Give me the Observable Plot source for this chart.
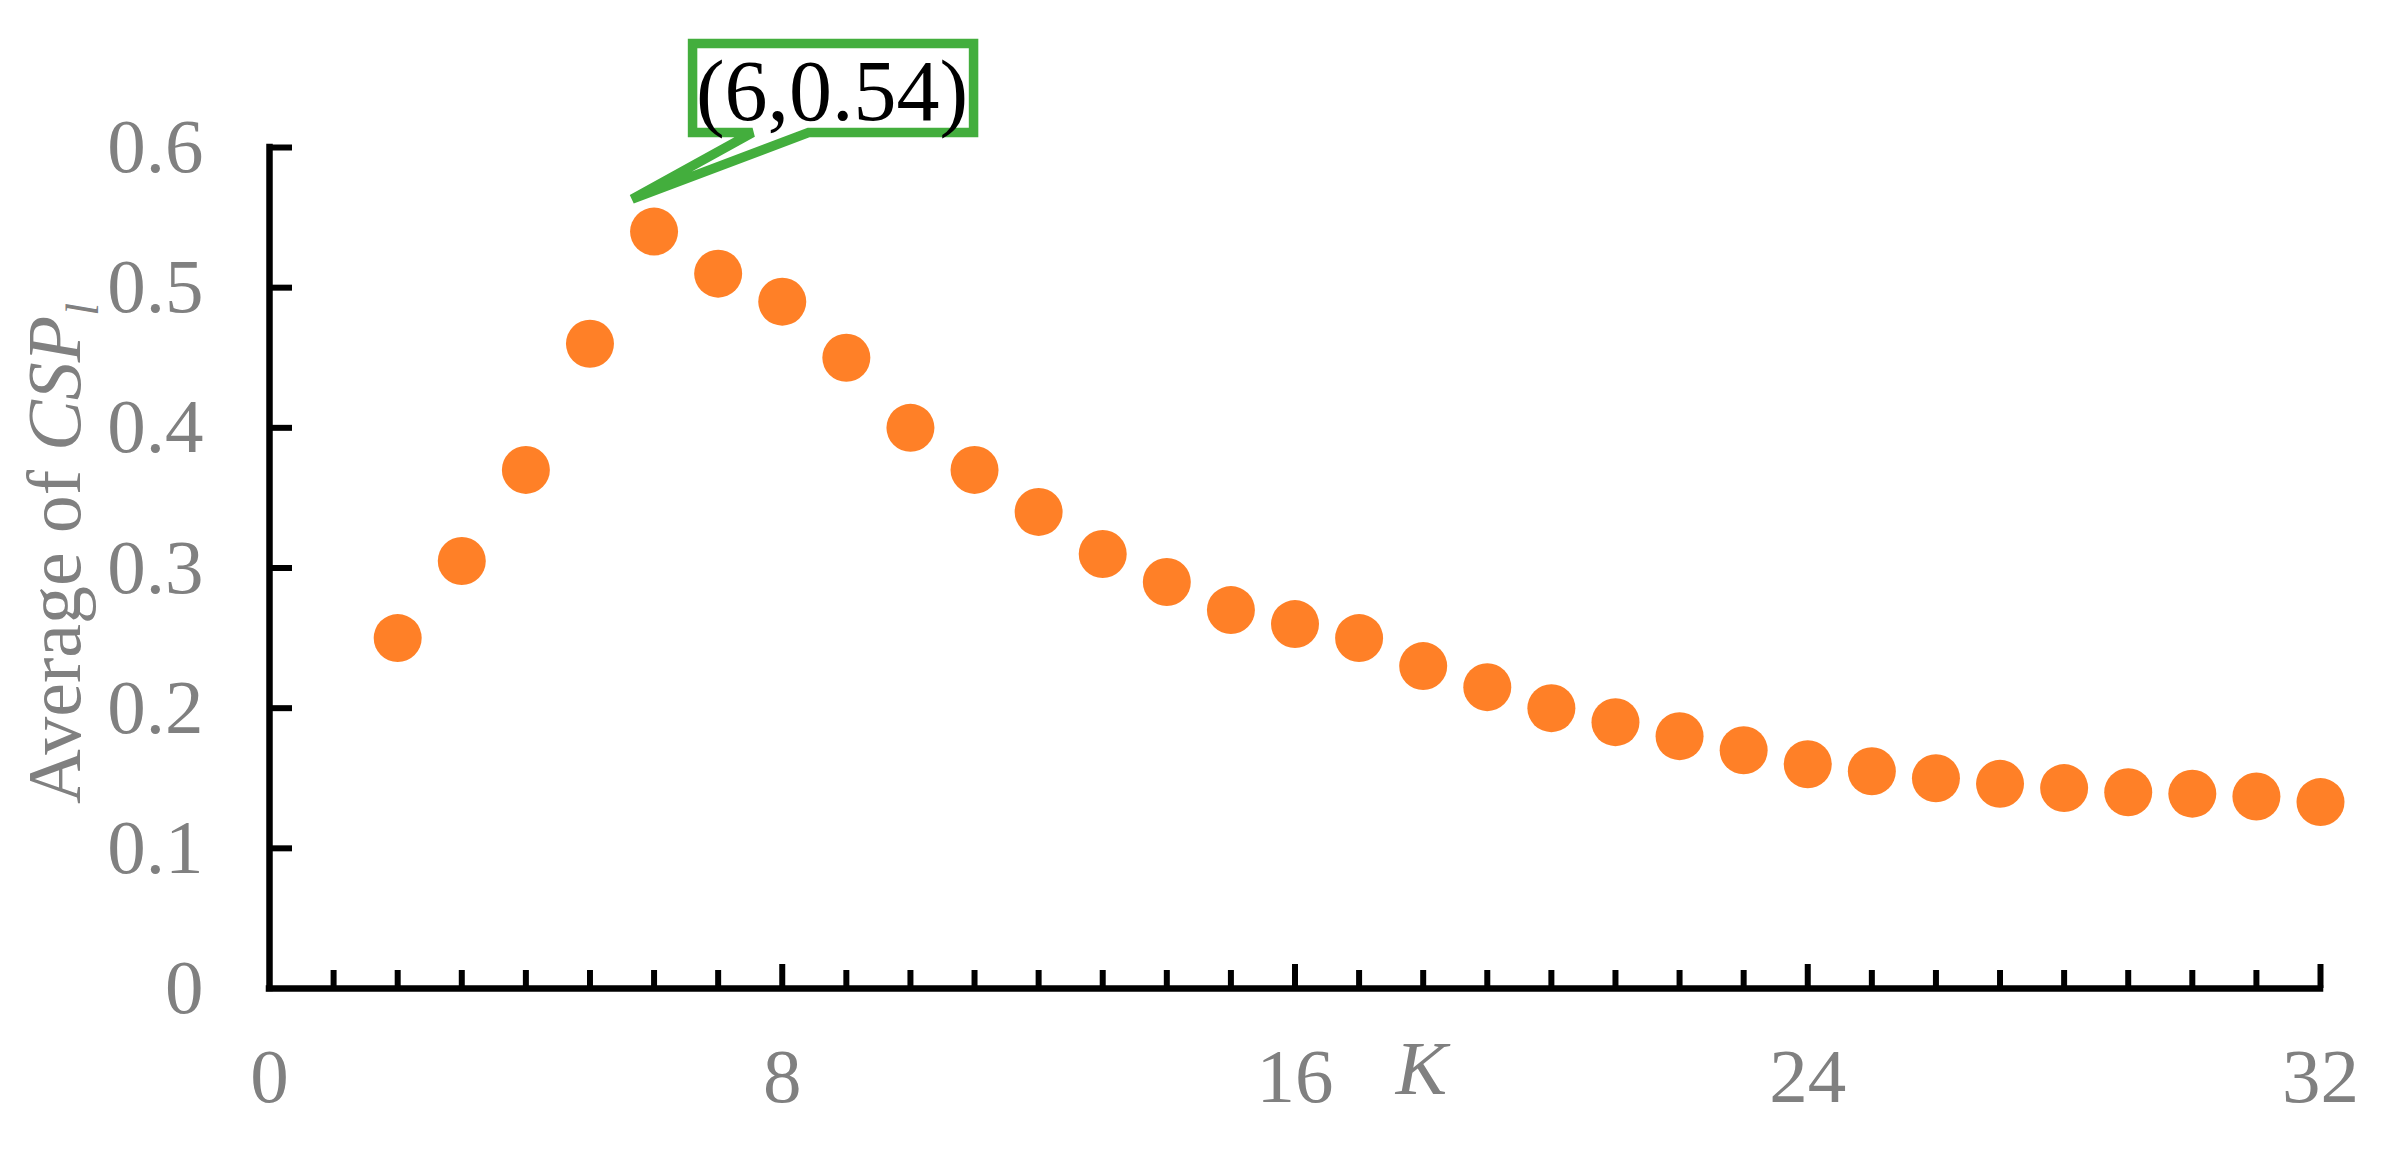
<!DOCTYPE html>
<html>
<head>
<meta charset="utf-8">
<script src="https://cdn.jsdelivr.net/npm/d3@7"></script>
<script src="https://cdn.jsdelivr.net/npm/@observablehq/plot@0.6"></script>
<style>
  html, body { margin: 0; padding: 0; background: #ffffff; overflow: hidden; }
  #chart svg { display: block; }
</style>
</head>
<body>
<div id="chart"></div>
<script>
// ---- data ----
const K = [2, 3, 4, 5, 6, 7, 8, 9, 10, 11, 12, 13, 14, 15, 16, 17, 18, 19, 20, 21, 22, 23, 24, 25, 26, 27, 28, 29, 30, 31, 32];
const avgCSP = [0.25, 0.305, 0.37, 0.46, 0.54, 0.51, 0.49, 0.45, 0.40, 0.37, 0.34, 0.31, 0.29, 0.27, 0.26, 0.25, 0.23, 0.215, 0.20, 0.19, 0.18, 0.17, 0.16, 0.155, 0.15, 0.146, 0.143, 0.14, 0.139, 0.137, 0.133];
const xTickLabels = [0, 8, 16, 24, 32];
const yTickLabels = [0, 0.1, 0.2, 0.3, 0.4, 0.5, 0.6];
const xMajorTicks = [8, 16, 24, 32];
const xMinorTicks = [1, 2, 3, 4, 5, 6, 7, 9, 10, 11, 12, 13, 14, 15, 17, 18, 19, 20, 21, 22, 23, 25, 26, 27, 28, 29, 30, 31];
const yTickMarks = [0.1, 0.2, 0.3, 0.4, 0.5, 0.6];
const annotations = [{K: 6, value: 0.54, text: "(6,0.54)"}];
const xLabel = ["K"];

const data = K.map((k, i) => ({K: k, value: avgCSP[i]}));

const W = 2396, H = 1167;
const mL = 269, mR = 76, mT = 147, mB = 179;
const plotW = W - mL - mR, plotH = H - mT - mB;
const gray = "#808080";
const serif = "'Liberation Serif', 'Times New Roman', Times, serif";

const plot = Plot.plot({
  width: W,
  height: H,
  marginLeft: mL,
  marginRight: mR,
  marginTop: mT,
  marginBottom: mB,
  style: {fontFamily: serif, fontSize: "77px", background: "#ffffff", color: "#000000", overflow: "visible"},
  x: {domain: [0, 32]},
  y: {domain: [0, 0.6]},
  marks: [
    Plot.axisX({ticks: xTickLabels, tickSize: 0, tickPadding: 59, fill: gray, label: null, fontSize: 77, tickFormat: d => String(d)}),
    Plot.axisY({ticks: yTickLabels, tickSize: 0, tickPadding: 66, fill: gray, label: null, fontSize: 77,
      tickFormat: d => d === 0 ? "0" : d.toFixed(1)}),
    Plot.tickX(xMinorTicks, {x: d => d, insetTop: plotH - 18, stroke: "black", strokeWidth: 6}),
    Plot.tickX(xMajorTicks, {x: d => d, insetTop: plotH - 24, stroke: "black", strokeWidth: 6}),
    Plot.tickY(yTickMarks, {y: d => d, insetRight: plotW - 23, stroke: "black", strokeWidth: 6}),
    Plot.ruleX([0], {stroke: "black", strokeWidth: 6.5, strokeLinecap: "square"}),
    Plot.ruleY([0], {stroke: "black", strokeWidth: 6.5, strokeLinecap: "square"}),
    Plot.dot(data, {x: "K", y: "value", r: 24, fill: "#FF8027", stroke: "none"}),
    Plot.text(annotations, {x: "K", y: "value", text: "text", dx: 178, dy: -139, fontSize: 86, fill: "black", textAnchor: "middle"}),
    Plot.text(xLabel, {text: d => d, frameAnchor: "bottom", dx: 126.5, dy: 105, fontStyle: "italic", fill: gray, fontSize: 77})
  ]
});

document.getElementById("chart").appendChild(plot);

// ---- annotation callout box, positioned from the library's scales ----
const sx = plot.scale("x").apply, sy = plot.scale("y").apply;
const svg = d3.select(plot);
const textGroups = plot.querySelectorAll("g[aria-label='text']");
annotations.forEach(a => {
  const ax = sx(a.K), ay = sy(a.value);
  const path = d3.path();
  path.moveTo(ax + 39, ay - 187.5);
  path.lineTo(ax + 320, ay - 187.5);
  path.lineTo(ax + 320, ay - 98.5);
  path.lineTo(ax + 155, ay - 98.5);
  path.lineTo(ax - 21.5, ay - 32);
  path.lineTo(ax + 99, ay - 98.5);
  path.lineTo(ax + 39, ay - 98.5);
  path.closePath();
  const p = document.createElementNS("http://www.w3.org/2000/svg", "path");
  p.setAttribute("d", path.toString());
  p.setAttribute("fill", "#ffffff");
  p.setAttribute("stroke", "#43AE3D");
  p.setAttribute("stroke-width", "9.5");
  p.setAttribute("stroke-linejoin", "miter");
  plot.insertBefore(p, textGroups[0]);
});

// ---- y axis title with italic CSP and subscript l ----
const yTitle = svg.append("text")
  .attr("transform", `translate(80, ${sy(0) - 184}) rotate(-90)`)
  .attr("text-anchor", "start")
  .attr("fill", gray)
  .attr("font-family", serif)
  .attr("font-size", 76);
yTitle.append("tspan").text("Average of ");
yTitle.append("tspan").attr("font-style", "italic").text("CSP");
yTitle.append("tspan").attr("font-style", "italic").attr("font-size", 46).attr("dy", 18).text("l");
</script>
</body>
</html>
